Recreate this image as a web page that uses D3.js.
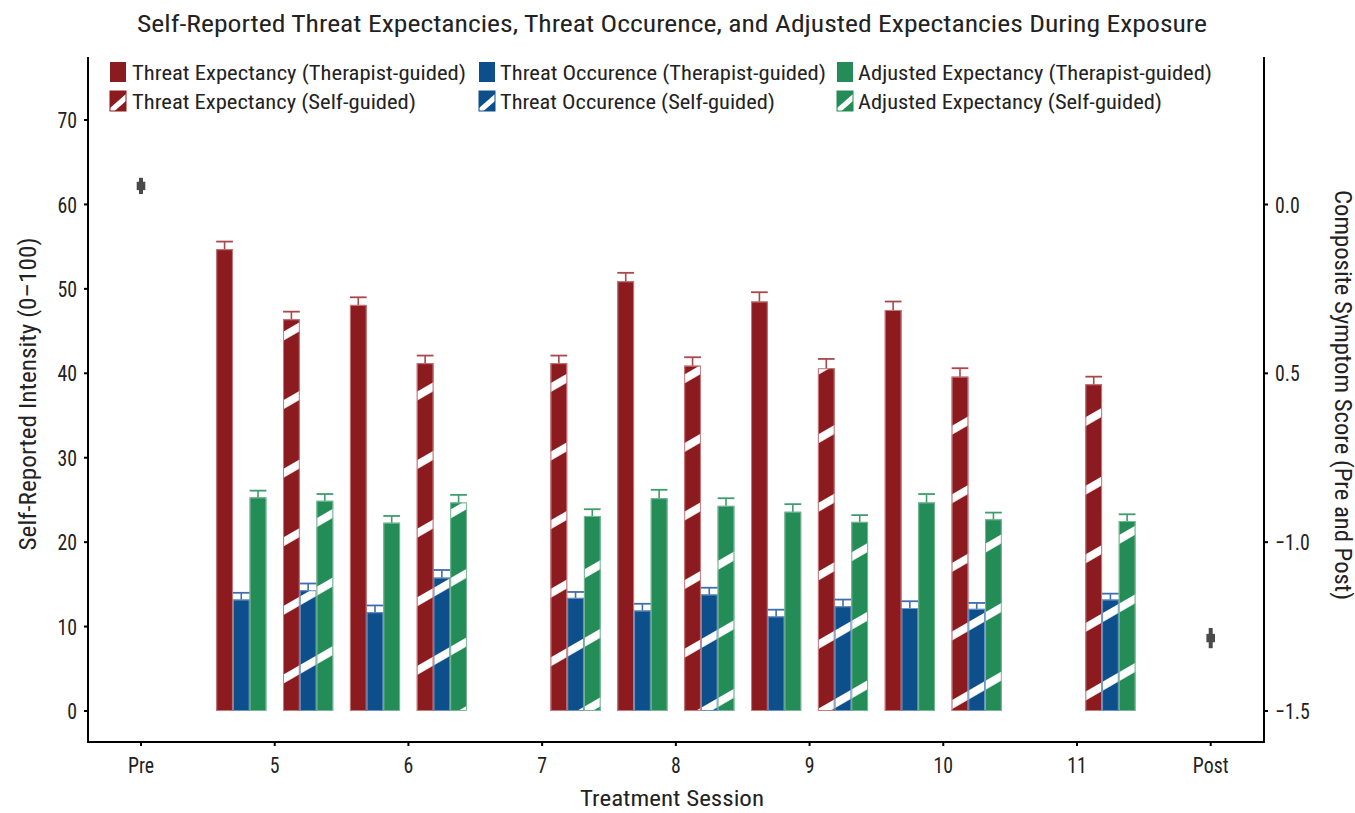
<!DOCTYPE html>
<html><head><meta charset="utf-8">
<script src="https://cdn.jsdelivr.net/npm/d3@7"></script>
<style>
html,body{margin:0;padding:0;background:#fff;}
text{font-family:"Liberation Sans Narrow","Roboto Condensed","DejaVu Sans Condensed",Roboto,sans-serif;fill:#222;}
</style></head>
<body><svg id="chart" width="1355" height="813"></svg>
<script>
// ---------- data ----------
const sessionLabels = ["Pre","5","6","7","8","9","10","11","Post"];
const sessions = ["5","6","7","8","9","10","11"];
// Therapist-guided (null = not shown)
const tgExpectancy   = [54.7, 48.1, null, 50.9, 48.5, 47.5, null];
const tgExpectancySE = [0.9, 0.9, null, 1.0, 1.1, 1.0, null];
const tgOccurrence   = [13.2, 11.7, null, 11.9, 11.2, 12.2, null];
const tgOccurrenceSE = [0.8, 0.8, null, 0.8, 0.8, 0.8, null];
const tgAdjusted     = [25.3, 22.3, null, 25.2, 23.6, 24.7, null];
const tgAdjustedSE   = [0.8, 0.8, null, 1.0, 0.9, 1.0, null];
// Self-guided
const sgExpectancy   = [46.4, 41.2, 41.2, 40.9, 40.6, 39.6, 38.7];
const sgExpectancySE = [0.9, 0.9, 0.9, 1.0, 1.1, 1.0, 0.9];
const sgOccurrence   = [14.3, 15.8, 13.4, 13.8, 12.4, 12.1, 13.2];
const sgOccurrenceSE = [0.8, 0.9, 0.7, 0.8, 0.8, 0.7, 0.7];
const sgAdjusted     = [24.9, 24.7, 23.1, 24.3, 22.4, 22.7, 22.5];
const sgAdjustedSE   = [0.8, 0.9, 0.8, 0.9, 0.8, 0.8, 0.8];
// Composite symptom score (right axis)
const compositeSessions = ["Pre","Post"];
const compositeScore = [0.055, -1.284];
const compositeSE    = [0.024, 0.03];
// ticks
const leftTicks = [0,10,20,30,40,50,60,70];
const rightTicks = [-1.5,-1.0,-0.5,0.0];
const rightTickLabels = ["\u22121.5","\u22121.0","0.5","0.0"];
const legendLabels = [
  ["Threat Expectancy (Therapist-guided)","Threat Occurence (Therapist-guided)","Adjusted Expectancy (Therapist-guided)"],
  ["Threat Expectancy (Self-guided)","Threat Occurence (Self-guided)","Adjusted Expectancy (Self-guided)"]
];

const colors = {TE:"#8c1b1f", TO:"#0d4f8b", AE:"#238c57"};
const strokeCol = {TE:"#c77b7d", TO:"#6f93c4", AE:"#79b895"};
const errCol = {TE:"#a8484b", TO:"#3f6eae", AE:"#3f9c6c"};

// ---------- build bar table ----------
const series = [
  {key:"T-TE", m:"TE", striped:false, v:tgExpectancy, se:tgExpectancySE},
  {key:"T-TO", m:"TO", striped:false, v:tgOccurrence, se:tgOccurrenceSE},
  {key:"T-AE", m:"AE", striped:false, v:tgAdjusted, se:tgAdjustedSE},
  {key:"S-TE", m:"TE", striped:true, v:sgExpectancy, se:sgExpectancySE},
  {key:"S-TO", m:"TO", striped:true, v:sgOccurrence, se:sgOccurrenceSE},
  {key:"S-AE", m:"AE", striped:true, v:sgAdjusted, se:sgAdjustedSE}
];
const bars = [];
series.forEach(s => sessions.forEach((sess,i) => {
  if (s.v[i] != null) bars.push({session:sess, key:s.key, m:s.m, striped:s.striped, value:s.v[i], se:s.se[i]});
}));

// ---------- layout ----------
const svg = d3.select("#chart");
const panel = {left:88, right:1264, top:57, bottom:742};

const x = d3.scalePoint().domain(sessionLabels).range([141, 1210.7]);
const inner = d3.scaleBand().domain(["T-TE","T-TO","T-AE","gap","S-TE","S-TO","S-AE"]).range([-58.5, 58.5]).padding(0);
const y = d3.scaleLinear().domain([0,70]).range([711,120]);
const y2 = d3.scaleLinear().domain([-1.5,0]).range([711,204.5]);

// stripe pattern (global, 30 degrees)
const defs = svg.append("defs");
const pat = defs.append("pattern").attr("id","stripes")
  .attr("patternUnits","userSpaceOnUse").attr("width",20).attr("height",59.4)
  .attr("patternTransform","translate(292,601) rotate(-30)");
pat.append("rect").attr("x",0).attr("y",0).attr("width",20).attr("height",7.8).attr("fill","#fff");

// ---------- bars ----------
const g = svg.append("g");
const bw = inner.bandwidth();
bars.forEach(d => {
  const x0 = x(d.session) + inner(d.key);
  g.append("rect").attr("x",x0).attr("y",y(d.value)).attr("width",bw).attr("height",y(0)-y(d.value))
    .attr("fill",colors[d.m]);
  if (d.striped) {
    g.append("rect").attr("x",x0).attr("y",y(d.value)).attr("width",bw).attr("height",y(0)-y(d.value))
      .attr("fill","url(#stripes)");
  }
  g.append("rect").attr("x",x0+0.5).attr("y",y(d.value)+0.5).attr("width",bw-1).attr("height",y(0)-y(d.value)-1)
    .attr("fill","none").attr("stroke",strokeCol[d.m]).attr("stroke-width",1);
  // error bar (upper)
  const cx = x0 + bw/2;
  g.append("line").attr("x1",cx).attr("x2",cx).attr("y1",y(d.value)).attr("y2",y(d.value+d.se))
    .attr("stroke",errCol[d.m]).attr("stroke-width",1.6);
  g.append("line").attr("x1",x0).attr("x2",x0+bw).attr("y1",y(d.value+d.se)).attr("y2",y(d.value+d.se))
    .attr("stroke",errCol[d.m]).attr("stroke-width",1.8);
});

// ---------- composite points ----------
compositeSessions.forEach((s,i) => {
  const cx = x(s), cy = y2(compositeScore[i]);
  g.append("line").attr("x1",cx).attr("x2",cx)
    .attr("y1",y2(compositeScore[i]-compositeSE[i])).attr("y2",y2(compositeScore[i]+compositeSE[i]))
    .attr("stroke","#4a4a4a").attr("stroke-width",4);
  g.append("rect").attr("x",cx-4.3).attr("y",cy-4.2).attr("width",8.6).attr("height",8.4).attr("fill","#4a4a4a");
});

// ---------- axes ----------
const ax = svg.append("g");
ax.append("line").attr("x1",panel.left).attr("x2",panel.left).attr("y1",panel.top).attr("y2",panel.bottom+1)
  .attr("stroke","#000").attr("stroke-width",2);
ax.append("line").attr("x1",panel.right).attr("x2",panel.right).attr("y1",panel.top).attr("y2",panel.bottom+1)
  .attr("stroke","#000").attr("stroke-width",2);
ax.append("line").attr("x1",panel.left-1).attr("x2",panel.right+1).attr("y1",panel.bottom).attr("y2",panel.bottom)
  .attr("stroke","#000").attr("stroke-width",2);

const fs = 22.5, sx = 0.88;
leftTicks.forEach(t => {
  ax.append("line").attr("x1",panel.left-4).attr("x2",panel.left).attr("y1",y(t)).attr("y2",y(t)).attr("stroke","#000").attr("stroke-width",2);
  ax.append("text").attr("transform",`translate(77,${y(t)}) scale(${sx},1)`).attr("dy","0.36em").attr("text-anchor","end").attr("font-size",fs).text(t);
});
rightTicks.forEach((t,i) => {
  ax.append("line").attr("x1",panel.right).attr("x2",panel.right+4).attr("y1",y2(t)).attr("y2",y2(t)).attr("stroke","#000").attr("stroke-width",2);
  ax.append("text").attr("transform",`translate(1275,${y2(t)}) scale(${sx},1)`).attr("dy","0.36em").attr("text-anchor","start").attr("font-size",fs).text(rightTickLabels[i]);
});
sessionLabels.forEach(s => {
  ax.append("line").attr("x1",x(s)).attr("x2",x(s)).attr("y1",panel.bottom).attr("y2",panel.bottom+4).attr("stroke","#000").attr("stroke-width",2);
  ax.append("text").attr("transform",`translate(${x(s)},773) scale(${sx},1)`).attr("text-anchor","middle").attr("font-size",fs).text(s);
});

// titles
svg.append("text").attr("x",672).attr("y",32).attr("text-anchor","middle").attr("font-size",24)
  .attr("textLength",1070).attr("lengthAdjust","spacingAndGlyphs")
  .text("Self-Reported Threat Expectancies, Threat Occurence, and Adjusted Expectancies During Exposure");
svg.append("text").attr("x",672).attr("y",806).attr("text-anchor","middle").attr("font-size",22)
  .attr("textLength",184).attr("lengthAdjust","spacingAndGlyphs").text("Treatment Session");
svg.append("text").attr("transform","translate(36,394) rotate(-90)").attr("text-anchor","middle").attr("font-size",23)
  .attr("textLength",313).attr("lengthAdjust","spacingAndGlyphs").text("Self-Reported Intensity (0\u2013100)");
svg.append("text").attr("transform","translate(1335,395) rotate(90)").attr("text-anchor","middle").attr("font-size",23)
  .attr("textLength",410).attr("lengthAdjust","spacingAndGlyphs").text("Composite Symptom Score (Pre and Post)");

// ---------- legend ----------
const legCols = [{sx:110, tx:132, m:"TE"},{sx:479, tx:500, m:"TO"},{sx:837, tx:858, m:"AE"}];
const legW = [[334,326,354],[284,275,304]];
const legRows = [{y:62, base:80},{y:91, base:109}];
legRows.forEach((r,ri) => legCols.forEach((c,ci) => {
  svg.append("rect").attr("x",c.sx).attr("y",r.y).attr("width",16).attr("height",20).attr("fill",colors[c.m]);
  if (ri===1) {
    svg.append("path")
      .attr("d",`M${c.sx},${r.y+20-3} L${c.sx+16},${r.y+20-3-14} L${c.sx+16},${r.y+20-3-14+7} L${c.sx},${r.y+20+4} Z`)
      .attr("fill","#fff");
    svg.append("rect").attr("x",c.sx).attr("y",r.y).attr("width",16).attr("height",20).attr("fill","none").attr("stroke",colors[c.m]).attr("stroke-width",1);
  }
  svg.append("text").attr("x",c.tx).attr("y",r.base).attr("font-size",20.5)
    .attr("textLength",legW[ri][ci]).attr("lengthAdjust","spacingAndGlyphs").text(legendLabels[ri][ci]);
}));
</script></body></html>
